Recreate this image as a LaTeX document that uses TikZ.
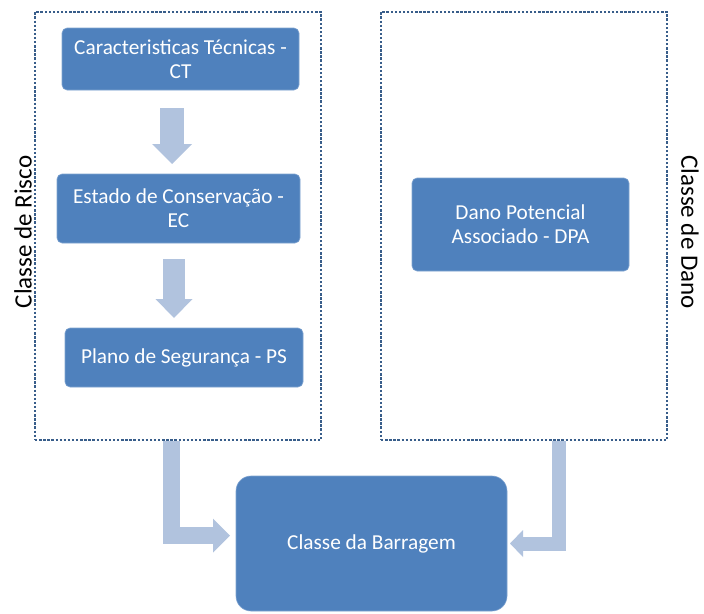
\documentclass[tikz,border=0pt]{standalone}
\usepackage{fontspec}
\setmainfont{Carlito}
\usetikzlibrary{arrows.meta}
\definecolor{boxblue}{HTML}{4F81BD}
\definecolor{boxline}{HTML}{7FA3D0}
\definecolor{arrowblue}{HTML}{B1C3DE}
\definecolor{dotblue}{HTML}{385D8A}
\begin{document}
\begin{tikzpicture}[x=1pt,y=-1pt,
  stepbox/.style={draw=boxline, line width=0.6pt, fill=boxblue, rounded corners=5pt,
    text=white, inner sep=0pt, align=center, font=\fontsize{21.3}{24}\selectfont},
  groupbox/.style={draw=dotblue, line width=2.7pt, dash pattern=on 2.4pt off 1.7pt, inner sep=0pt},
  sidelabel/.style={font=\fontsize{25}{29}\selectfont, inner sep=0pt, text=black},
  blockarrow/.style={draw=arrowblue, line join=miter}
]
\useasboundingbox (0,0) rectangle (704,613);

% group boxes
\node[groupbox, minimum width=286pt, minimum height=428pt] (risk) at (178,226) {};
\node[groupbox, minimum width=286pt, minimum height=428pt] (dano) at (524,226) {};

% step boxes
\node[stepbox, minimum width=237pt, minimum height=62pt] (ct) at (180.5,59) {Caracteristicas Técnicas -\\CT};
\node[stepbox, minimum width=243pt, minimum height=69pt] (ec) at (178.5,208.5) {Estado de Conservação -\\EC};
\node[stepbox, minimum width=238pt, minimum height=59pt] (ps) at (184,357.5) {Plano de Segurança - PS};
\node[stepbox, minimum width=217pt, minimum height=93pt] (dpa) at (520.5,224.5) {Dano Potencial\\Associado - DPA};
\node[stepbox, rounded corners=15pt, minimum width=271pt, minimum height=135pt] (cb) at (371.5,543.5) {Classe da Barragem};

% side labels
\node[sidelabel, rotate=90] (lrisk) at (23,232) {Classe de Risco};
\node[sidelabel, rotate=-90] (ldano) at (690,232) {Classe de Dano};

% arrow end points
\coordinate (a1s) at (172,108);
\coordinate (a1e) at (172,164);
\coordinate (a2s) at (174,259);
\coordinate (a2e) at (174,318);
\coordinate (a3s) at (171.5,441);
\coordinate (a3m) at (171.5,535.5);
\coordinate (a3e) at (230,535.5);
\coordinate (a4s) at (559,441);
\coordinate (a4m) at (559,543.5);
\coordinate (a4e) at (510,543.5);

\draw[blockarrow, line width=24pt, -{Triangle[width=40pt,length=20pt,line width=0pt,fill=arrowblue]}] (a1s) -- (a1e);
\draw[blockarrow, line width=22pt, -{Triangle[width=37pt,length=19pt,line width=0pt,fill=arrowblue]}] (a2s) -- (a2e);
\draw[blockarrow, line width=17pt, -{Triangle[width=34pt,length=17pt,line width=0pt,fill=arrowblue]}] (a3s) -- (a3m) -- (a3e);
\draw[blockarrow, line width=14pt, -{Triangle[width=27pt,length=13pt,line width=0pt,fill=arrowblue]}] (a4s) -- (a4m) -- (a4e);
\end{tikzpicture}
\end{document}
